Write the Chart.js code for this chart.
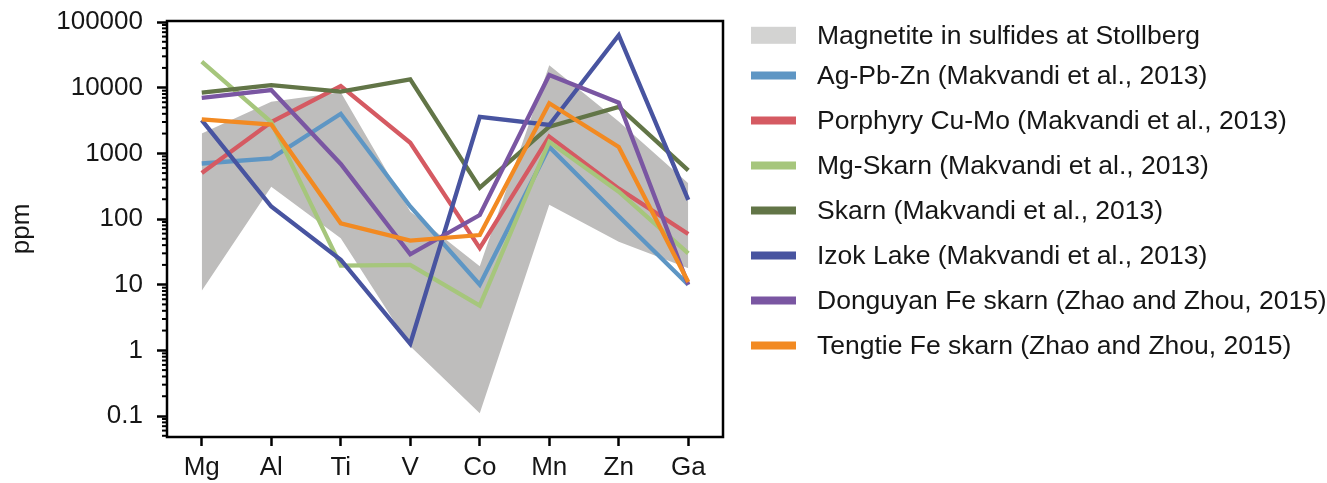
<!DOCTYPE html>
<html>
<head>
<meta charset="utf-8">
<script src="https://cdn.jsdelivr.net/npm/chart.js@4.4.1/dist/chart.umd.min.js"></script>
<style>
  html, body { margin: 0; padding: 0; background: #ffffff; }
  #wrap { width: 1327px; height: 483px; position: relative; }
</style>
</head>
<body>
<div id="wrap"><canvas id="c"></canvas></div>
<script>
// ---------------- data ----------------
const categories = ['Mg', 'Al', 'Ti', 'V', 'Co', 'Mn', 'Zn', 'Ga'];

// shaded range: magnetite in sulfides at Stollberg
const bandUpper = [2000, 6100, 8500, 130, 19, 22000, 3050, 350];
const bandLower = [8.1, 310, 51, 1.15, 0.11, 165, 45, 17.8];

const agPbZn   = [700, 840, 4000, 155, 10, 1250, 110, 10];
const porphyry = [500, 3000, 10600, 1450, 36, 1800, 290, 59];
const mgSkarn  = [25000, 3000, 19.5, 20, 4.8, 1500, 260, 30];
const skarn    = [8400, 10900, 8700, 13400, 300, 2550, 5100, 550];
const izokLake = [3200, 155, 24, 1.26, 3600, 2700, 63000, 195];
const donguyan = [7000, 9200, 690, 29, 115, 15600, 5900, 10];
const tengtie  = [3300, 2750, 86, 47, 57, 5800, 1250, 11];

const bandName = 'Magnetite in sulfides at Stollberg';
const seriesNames = [
  'Ag-Pb-Zn (Makvandi et al., 2013)',
  'Porphyry Cu-Mo (Makvandi et al., 2013)',
  'Mg-Skarn (Makvandi et al., 2013)',
  'Skarn (Makvandi et al., 2013)',
  'Izok Lake (Makvandi et al., 2013)',
  'Donguyan Fe skarn (Zhao and Zhou, 2015)',
  'Tengtie Fe skarn (Zhao and Zhou, 2015)'
];
const seriesData = [agPbZn, porphyry, mgSkarn, skarn, izokLake, donguyan, tengtie];

const yTickValues = [0.1, 1, 10, 100, 1000, 10000, 100000];
const yTickLabels = ['0.1', '1', '10', '100', '1000', '10000', '100000'];
const yAxisTitle = 'ppm';

// ---------------- styles ----------------
const seriesColors = ['#5e96c4', '#d55a62', '#a6c67c', '#627547', '#4854a0', '#7a56a2', '#f28a22'];
const bandColor = '#bebdbc';
const bandLegendColor = '#d3d3d2';
const textColor = '#161616';
const FONT = "'Liberation Sans', Arial, Helvetica, sans-serif";

// ---------------- chart ----------------
const datasets = [
  {
    label: bandName, data: bandUpper, fill: '+1',
    backgroundColor: bandColor, borderColor: 'rgba(0,0,0,0)', borderWidth: 0,
    pointRadius: 0, order: 20
  },
  {
    label: bandName + ' (lower)', data: bandLower, fill: false,
    backgroundColor: bandColor, borderColor: 'rgba(0,0,0,0)', borderWidth: 0,
    pointRadius: 0, order: 21
  }
].concat(seriesData.map((d, i) => ({
  label: seriesNames[i], data: d, fill: false,
  borderColor: seriesColors[i], backgroundColor: seriesColors[i],
  borderWidth: 4.3, pointRadius: 0, tension: 0,
  borderJoinStyle: 'miter', borderCapStyle: 'butt',
  order: 10 - i
})));

const decorPlugin = {
  id: 'decor',
  afterDraw(chart) {
    const { ctx, chartArea: a, scales: { y } } = chart;
    ctx.save();
    // minor y ticks
    ctx.strokeStyle = '#000';
    ctx.lineWidth = 2;
    for (let e = -2; e <= 5; e++) {
      for (let k = 2; k <= 9; k++) {
        const v = k * Math.pow(10, e);
        if (v < y.min || v > y.max) continue;
        const py = y.getPixelForValue(v);
        ctx.beginPath();
        ctx.moveTo(a.left - 5, py);
        ctx.lineTo(a.left, py);
        ctx.stroke();
      }
    }
    // frame
    ctx.lineWidth = 2.5;
    ctx.strokeRect(a.left, a.top, a.right - a.left, a.bottom - a.top);

    // legend
    const lx = 751, lw = 45, tx = 817;
    ctx.font = '26.5px ' + FONT;
    ctx.textBaseline = 'middle';
    ctx.textAlign = 'left';
    const rows = [bandName].concat(seriesNames);
    rows.forEach((name, i) => {
      const cy = i === 0 ? 35.3 : 75.5 + (i - 1) * 45;
      if (i === 0) {
        ctx.fillStyle = bandLegendColor;
        ctx.fillRect(lx, cy - 8.5, lw, 17);
      } else {
        ctx.fillStyle = seriesColors[i - 1];
        ctx.fillRect(lx, cy - 4, lw, 8);
      }
      ctx.fillStyle = textColor;
      ctx.fillText(name, tx, cy + 1);
    });
    ctx.restore();
  }
};

new Chart(document.getElementById('c'), {
  type: 'line',
  data: { labels: categories, datasets },
  plugins: [decorPlugin],
  options: {
    responsive: true,
    maintainAspectRatio: false,
    animation: false,
    devicePixelRatio: 1,
    layout: { padding: { top: 21, right: 604, bottom: 0, left: 0 } },
    plugins: {
      legend: { display: false },
      tooltip: { enabled: false },
      filler: { propagate: false }
    },
    scales: {
      x: {
        type: 'category',
        offset: true,
        border: { display: false },
        grid: {
          display: true, drawOnChartArea: false, drawTicks: true, offset: false,
          tickLength: 9, tickWidth: 2.5, tickColor: '#000'
        },
        ticks: {
          font: { family: FONT, size: 26 }, color: textColor,
          padding: 6, maxRotation: 0, autoSkip: false
        },
        afterFit(s) { s.height = 46; s.paddingLeft = 0; s.paddingRight = 0; }
      },
      y: {
        type: 'logarithmic',
        min: 0.0479,
        max: 103570,
        border: { display: false },
        grid: {
          display: true, drawOnChartArea: false, drawTicks: true,
          tickLength: 10, tickWidth: 2.5, tickColor: '#000'
        },
        afterBuildTicks(s) { s.ticks = yTickValues.map(v => ({ value: v, major: true })); },
        ticks: {
          font: { family: FONT, size: 26 }, color: textColor,
          padding: 14, autoSkip: false,
          callback: (v, i) => yTickLabels[i]
        },
        title: {
          display: true, text: yAxisTitle, color: textColor,
          font: { family: FONT, size: 26 },
          padding: { top: 6, bottom: 0 }
        },
        afterFit(s) { s.width = 167; s.paddingTop = 0; s.paddingBottom = 0; }
      }
    }
  }
});
</script>
</body>
</html>
